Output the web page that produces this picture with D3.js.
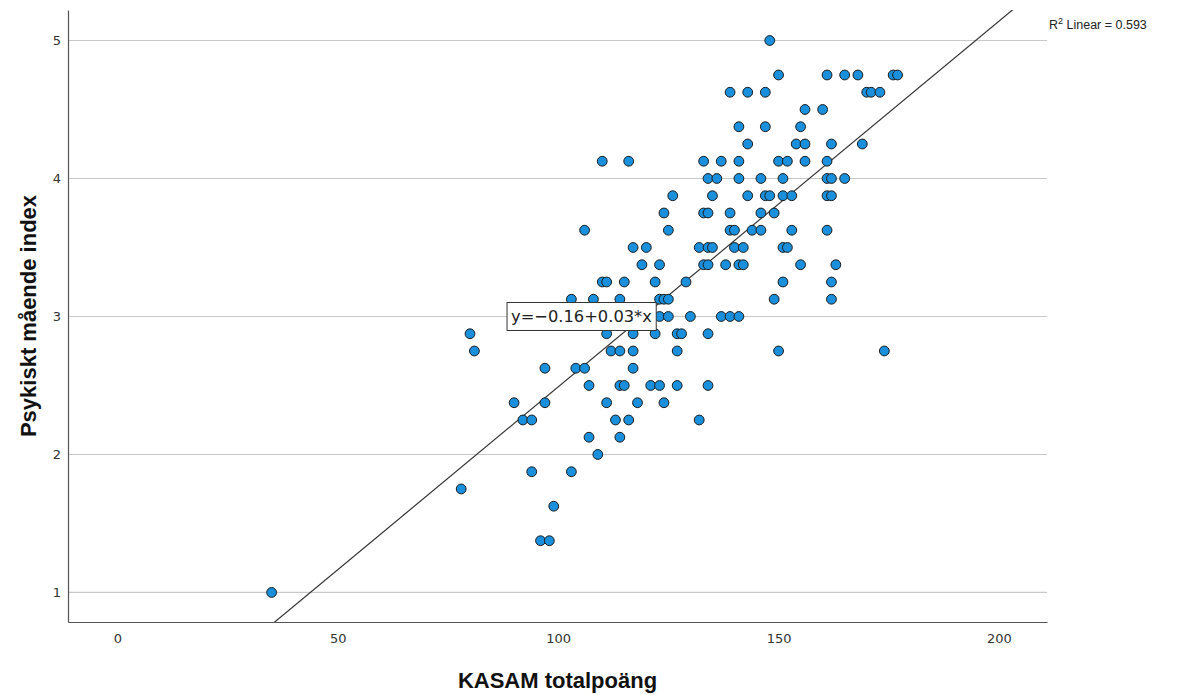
<!DOCTYPE html>
<html>
<head>
<meta charset="utf-8">
<script src="https://cdn.jsdelivr.net/npm/d3@7"></script>
<style>
  body { margin: 0; background: #fff; }
  svg { display: block; font-family: "Liberation Sans", Arial, sans-serif; }
</style>
</head>
<body>
<svg id="chart" width="1192" height="695"></svg>
<script>
// KASAM total score (x) for each respondent, grouped by index value (y)
const yLevels = [5, 4.75, 4.625, 4.5, 4.375, 4.25, 4.125, 4, 3.875, 3.75, 3.625, 3.5, 3.375, 3.25, 3.125, 3,
  2.875, 2.75, 2.625, 2.5, 2.375, 2.25, 2.125, 2, 1.875, 1.75, 1.625, 1.375, 1];
const kasamByLevel = [
  [148],
  [150, 161, 165, 168, 176, 177],
  [139, 143, 147, 170, 171, 173],
  [156, 160],
  [141, 147, 155],
  [143, 154, 156, 162, 169],
  [110, 116, 133, 137, 141, 150, 152, 156, 161],
  [134, 136, 141, 146, 151, 161, 162, 165],
  [126, 135, 143, 147, 148, 151, 153, 161, 162],
  [124, 133, 134, 139, 146, 149],
  [106, 125, 139, 140, 144, 146, 153, 161],
  [117, 120, 132, 134, 135, 140, 142, 151, 152],
  [119, 123, 133, 134, 138, 141, 142, 155, 163],
  [110, 111, 115, 122, 129, 151, 162],
  [103, 108, 114, 123, 124, 125, 149, 162],
  [123, 125, 130, 137, 139, 141],
  [80, 111, 117, 122, 127, 128, 134],
  [81, 112, 114, 117, 127, 150, 174],
  [97, 104, 106, 117],
  [107, 114, 115, 121, 123, 127, 134],
  [90, 97, 111, 118, 124],
  [92, 94, 113, 116, 132],
  [107, 114],
  [109],
  [94, 103],
  [78],
  [99],
  [96, 98],
  [35]
];
const xTicks = [0, 50, 100, 150, 200];
const yTicks = [1, 2, 3, 4, 5];
const fitIntercept = -0.16;
const fitSlope = 0.0265;
const rSquared = 0.593;
const equationText = "y=\u22120.16+0.03*x";

const points = [];
yLevels.forEach((lv, i) => kasamByLevel[i].forEach(k => points.push({ x: k, y: lv })));

const svg = d3.select("#chart");
const plotLeft = 68, plotRight = 1047, plotTop = 10, plotBottom = 622;

const x = d3.scaleLinear().domain([-11.2, 210.9]).range([plotLeft, plotRight]);
const y = d3.scaleLinear().domain([0.786, 5.221]).range([plotBottom, plotTop]);

// gridlines
svg.append("g")
  .selectAll("line")
  .data(yTicks)
  .join("line")
  .attr("x1", plotLeft + 1)
  .attr("x2", plotRight)
  .attr("y1", d => y(d))
  .attr("y2", d => y(d))
  .attr("stroke", "#c9c9c9")
  .attr("stroke-width", 1.2);

// axes
const xAxis = svg.append("g")
  .attr("transform", `translate(0,${plotBottom})`)
  .call(d3.axisBottom(x).tickValues(xTicks).tickSize(0).tickPadding(12));
const yAxis = svg.append("g")
  .attr("transform", `translate(${plotLeft},0)`)
  .call(d3.axisLeft(y).tickValues(yTicks).tickFormat(d3.format("d")).tickSize(0).tickPadding(7));

[xAxis, yAxis].forEach(a => {
  a.select(".domain").attr("stroke", "#555").attr("stroke-width", 1.2);
  a.selectAll("text")
    .attr("fill", "#333")
    .style("font-family", "'DejaVu Sans', sans-serif")
    .style("font-size", "13px");
});

// fit line, clipped to the plot
svg.append("clipPath")
  .attr("id", "plotClip")
  .append("rect")
  .attr("x", plotLeft)
  .attr("y", plotTop)
  .attr("width", plotRight - plotLeft)
  .attr("height", plotBottom - plotTop);

const xs = [x.domain()[0], x.domain()[1]];
svg.append("line")
  .attr("clip-path", "url(#plotClip)")
  .attr("x1", x(xs[0]))
  .attr("y1", y(fitIntercept + fitSlope * xs[0]))
  .attr("x2", x(xs[1]))
  .attr("y2", y(fitIntercept + fitSlope * xs[1]))
  .attr("stroke", "#333")
  .attr("stroke-width", 1.2);

// points
svg.append("g")
  .selectAll("circle")
  .data(points)
  .join("circle")
  .attr("cx", d => x(d.x))
  .attr("cy", d => y(d.y))
  .attr("r", 4.9)
  .attr("fill", "#1a8fdb")
  .attr("stroke", "#1c1c1c")
  .attr("stroke-width", 1);

// equation label
const eqGroup = svg.append("g")
  .attr("transform", `translate(${x(88.4)},${y(3)})`);
const eqText = eqGroup.append("text")
  .attr("x", 4)
  .attr("y", 6)
  .attr("fill", "#222")
  .style("font-family", "'DejaVu Sans', sans-serif")
  .style("font-size", "16.3px")
  .text(equationText);
const eqBox = eqText.node().getBBox();
eqGroup.insert("rect", "text")
  .attr("x", 0)
  .attr("y", -14)
  .attr("width", eqBox.width + 8)
  .attr("height", 28)
  .attr("fill", "#fff")
  .attr("stroke", "#333")
  .attr("stroke-width", 1);

// R squared label
const rText = svg.append("text")
  .attr("x", 1049)
  .attr("y", 29)
  .attr("fill", "#222")
  .style("font-size", "12.5px");
rText.append("tspan").text("R");
rText.append("tspan").attr("dy", -5).style("font-size", "9px").text("2");
rText.append("tspan").attr("dy", 5).text(" Linear = " + rSquared.toFixed(3));

// axis titles
svg.append("text")
  .attr("x", (plotLeft + plotRight) / 2)
  .attr("y", 688)
  .attr("text-anchor", "middle")
  .attr("fill", "#111")
  .style("font-size", "22px")
  .style("font-weight", "bold")
  .text("KASAM totalpoäng");

svg.append("text")
  .attr("transform", `translate(36,${(plotTop + plotBottom) / 2}) rotate(-90)`)
  .attr("text-anchor", "middle")
  .attr("fill", "#111")
  .style("font-size", "22px")
  .style("font-weight", "bold")
  .text("Psykiskt mående index");
</script>
</body>
</html>
